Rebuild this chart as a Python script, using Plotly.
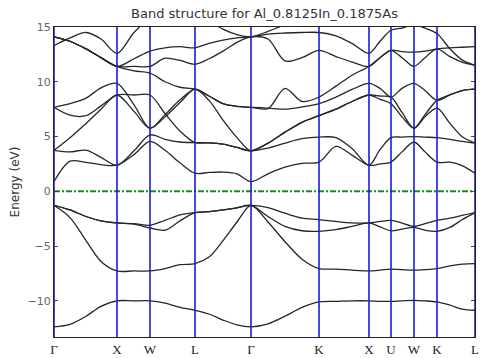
import plotly.graph_objects as go

# High-symmetry path (x positions along the k-path, arbitrary units)
sym_labels = ["Γ", "X", "W", "L", "Γ", "K", "X", "U", "W", "K", "L"]
sym_k = [0, 63, 96, 141, 197, 265, 315, 337, 360, 383, 421]

# sampling grid along the path (high-symmetry points + intermediate points)
k_grid = [0, 16, 32, 47, 63, 80, 96, 111, 126, 141, 155, 169, 183, 197,
          214, 231, 248, 265, 282, 298, 315, 326, 337, 348, 360, 371, 383,
          396, 408, 421]

# band energies (eV) read on k_grid
vb1 = [-12.38, -12.15, -11.4, -10.5, -10.0, -10.0, -10.0, -10.2, -10.6, -10.86,
       -11.2, -11.75, -12.2, -12.38, -12.1, -11.4, -10.6, -10.1, -10.05, -10.0,
       -10.0, -10.05, -10.05, -10.0, -9.95, -10.0, -10.1, -10.4, -10.75, -10.86]
vb2 = [-1.28, -2.4, -4.5, -6.4, -7.27, -7.27, -7.27, -7.05, -6.7, -6.6,
       -6.0, -4.5, -2.8, -1.28, -2.8, -4.6, -6.2, -7.05, -7.1, -7.2,
       -7.27, -7.2, -7.1, -7.15, -7.2, -7.15, -7.05, -6.8, -6.65, -6.6]
vb3 = [-1.28, -1.7, -2.3, -2.7, -2.89, -3.0, -3.35, -3.55, -2.7, -1.95,
       -1.85, -1.7, -1.5, -1.28, -2.3, -3.2, -3.6, -3.65, -3.5, -3.2,
       -2.89, -3.25, -3.6, -3.45, -3.3, -3.55, -3.65, -3.3, -2.6, -1.95]
vb4 = [-1.28, -1.7, -2.3, -2.7, -2.89, -2.95, -3.1, -2.65, -2.15, -1.95,
       -1.85, -1.7, -1.5, -1.28, -1.5, -2.0, -2.45, -2.58, -2.75, -2.88,
       -2.89, -2.75, -2.65, -2.9, -3.2, -2.95, -2.65, -2.45, -2.2, -1.95]
cb1 = [0.88, 2.75, 2.65, 2.43, 2.38, 3.35, 4.55, 3.75, 2.6, 1.65,
       1.72, 1.76, 1.6, 0.88, 1.6, 2.2, 2.55, 2.67, 4.1, 3.3,
       2.38, 2.5, 2.67, 3.6, 4.5, 3.6, 2.67, 2.66, 2.35, 1.65]
cb2 = [3.74, 3.6, 3.75, 3.1, 2.38, 3.7, 5.15, 4.75, 4.5, 4.45,
       4.42, 4.3, 4.0, 3.7, 3.95, 4.4, 4.8, 4.95, 4.9, 3.9,
       2.38, 3.8, 4.9, 4.95, 5.0, 4.95, 4.9, 4.75, 4.55, 4.4]
cb3 = [3.74, 4.9, 6.2, 7.5, 8.79, 7.3, 5.76, 6.8, 8.1, 9.33,
       8.3, 6.5, 4.9, 3.7, 4.4, 5.4, 6.3, 6.9, 7.5, 8.2,
       8.79, 8.4, 8.0, 6.8, 5.76, 6.8, 7.6, 6.2, 5.0, 4.4]
cb4 = [14.1, 13.7, 13.0, 12.2, 11.4, 11.0, 10.8, 10.0, 9.5, 9.33,
       8.7, 8.0, 7.75, 7.67, 7.6, 7.5, 7.7, 8.0, 8.6, 9.3,
       9.85, 9.4, 8.6, 9.4, 9.85, 9.2, 8.3, 8.8, 9.2, 9.33]
cb5 = [7.67, 6.95, 6.9, 7.8, 8.79, 8.79, 8.79, 7.1, 5.5, 4.45,
       4.42, 4.3, 4.0, 3.7, 4.4, 5.4, 6.3, 6.9, 7.5, 8.2,
       8.79, 8.7, 8.6, 7.2, 5.76, 7.0, 8.3, 8.8, 9.2, 9.33]
cb6 = [7.67, 8.0, 8.5, 9.45, 9.85, 7.9, 5.76, 7.0, 8.35, 9.33,
       8.7, 8.0, 7.75, 7.67, 7.55, 9.4, 8.2, 8.6, 9.6, 10.6,
       11.4, 12.2, 12.87, 12.2, 11.4, 12.2, 13.0, 12.3, 11.8, 11.5]
cb7 = [14.1, 13.7, 13.0, 12.2, 11.4, 11.4, 11.4, 12.15, 11.95, 11.6,
       12.1, 12.8, 13.6, 14.1, 13.9, 11.9, 12.2, 12.87, 12.3, 11.8,
       11.4, 12.2, 12.87, 12.75, 12.7, 12.8, 13.0, 13.1, 13.15, 13.2]
cb8 = [14.1, 13.7, 13.0, 12.2, 11.4, 12.1, 12.8, 13.1, 13.2, 13.1,
       13.5, 13.8, 14.0, 14.1, 14.35, 14.45, 14.5, 14.5, 14.2, 13.5,
       12.6, 13.7, 14.7, 14.9, 15.2, 14.9, 14.4, 13.0, 12.0, 11.5]
cb9 = [13.3, 14.0, 14.5, 13.9, 12.6, 14.5, 15.8, 16.5, 16.5, 16.5,
       15.6, 14.8, 14.3, 14.1, 14.6, 15.2, 15.6, 15.8, 16.0, 16.0,
       16.0, 16.0, 16.0, 16.0, 16.0, 16.0, 16.0, 16.0, 16.0, 16.0]

bands = [vb1, vb2, vb3, vb4, cb1, cb2, cb3, cb4, cb5, cb6, cb7, cb8, cb9]

fermi_level = 0.0
y_range = [-13.3, 15]
y_ticks = [-10, -5, 0, 5, 10, 15]

fig = go.Figure()
for band in bands:
    fig.add_trace(go.Scatter(
        x=k_grid, y=band, mode="lines",
        line=dict(color="#262626", width=1.3, shape="spline", smoothing=0.9),
        showlegend=False, hoverinfo="skip"))

# Fermi level
fig.add_trace(go.Scatter(
    x=[sym_k[0], sym_k[-1]], y=[fermi_level, fermi_level], mode="lines",
    line=dict(color="#1a8a1a", width=2, dash="6px,2px,2px,2px"),
    showlegend=False, hoverinfo="skip"))

# vertical lines at high-symmetry points
for xk in sym_k:
    fig.add_shape(type="line", xref="x", yref="paper", x0=xk, x1=xk, y0=0, y1=1,
                  line=dict(color="rgba(30,30,210,0.9)", width=1.8), layer="above")

fig.update_layout(
    width=481, height=358,
    margin=dict(l=54, r=6, t=27, b=21, autoexpand=False),
    paper_bgcolor="white", plot_bgcolor="white",
    title=dict(text="Band structure for Al_0.8125In_0.1875As",
               xref="paper", x=0.5, xanchor="center",
               yref="container", y=0.963, yanchor="middle",
               font=dict(family="DejaVu Sans", size=13, color="#333")),
    font=dict(family="DejaVu Sans"),
)
fig.update_xaxes(range=[sym_k[0], sym_k[-1]], tickvals=sym_k, ticktext=sym_labels,
                 tickfont=dict(family="Liberation Serif", size=13, color="#222"),
                 showgrid=False, zeroline=False, showline=True, linecolor="#222",
                 linewidth=1, mirror=True, ticks="", ticklen=0, automargin=False)
fig.update_yaxes(range=y_range, tickvals=y_ticks,
                 tickfont=dict(family="DejaVu Sans", size=11, color="#666"),
                 title=dict(text="Energy (eV)", standoff=5,
                            font=dict(family="DejaVu Sans", size=12, color="#333")),
                 showgrid=False, zeroline=False, showline=True, linecolor="#222",
                 linewidth=1, mirror="ticks", ticks="inside", ticklen=4, tickcolor="#444",
                 automargin=False)

fig.write_html("out.html", config={"displayModeBar": False},
               post_script="document.body.style.margin='0px';document.body.style.overflow='hidden';")
